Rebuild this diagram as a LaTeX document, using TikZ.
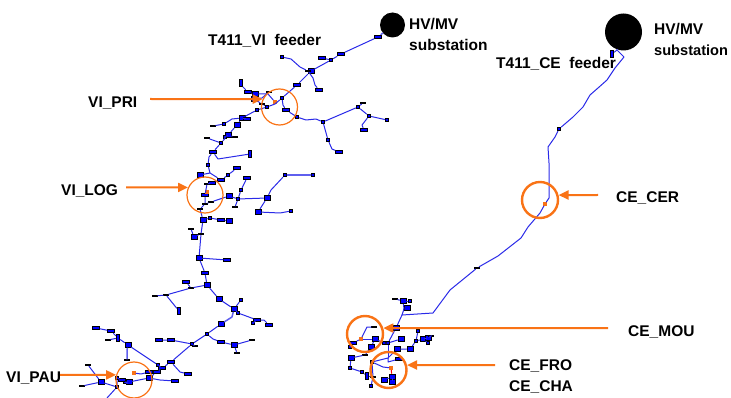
\documentclass[tikz,border=0pt]{standalone}
\usepackage{xcolor}
\usepackage{fontspec}
\setmainfont{Liberation Sans}
\usetikzlibrary{arrows.meta}
\definecolor{markorange}{HTML}{F97316}
\definecolor{feederblue}{HTML}{2A2AE8}
\begin{document}
\begin{tikzpicture}[
        x=1pt, y=-1pt,
        bus/.style={rectangle, draw=black, fill=blue, line width=1pt, inner sep=0pt, minimum width=3.6pt, minimum height=3.6pt},
        busbig/.style={bus, minimum width=6pt, minimum height=5.6pt},
        buswide/.style={bus, minimum width=7pt, minimum height=3.8pt},
        bustiny/.style={bus, minimum width=4.6pt, minimum height=1.4pt},
        bustall/.style={bus, minimum width=3.6pt, minimum height=7pt},
        way/.style={inner sep=0pt, outer sep=0pt, minimum size=0pt},
        hot/.style={rectangle, fill=markorange, inner sep=0pt, minimum size=3.6pt},
        substation/.style={circle, fill=black, inner sep=0pt},
        feeder/.style={draw=feederblue, line width=1pt, line cap=round, line join=round},
        trunk/.style={feeder, line width=1.5pt, draw=feederblue!75},
        ring/.style={circle, draw=markorange, inner sep=0pt, line width=1.2pt, minimum size=36pt},
        ringbig/.style={ring, line width=2.4pt, minimum size=36pt},
        pointer/.style={draw=markorange, line width=2pt, -{Triangle[length=10pt,width=9pt]}},
        tag/.style={anchor=west, inner sep=0pt, font=\fontsize{15.5}{16}\selectfont\bfseries},
      ]
      \useasboundingbox (0,0) rectangle (731,398);
      % left feeder
      \node [substation, minimum size=25pt] (subvi) at (392.5,25) {};
      \foreach \nm/\px/\py/\st in {a1/378/37/buswide, a2/341/54/buswide, a3/331/60/bus, a3b/322/58/buswide, a4/311/71/busbig, a4b/308/71/bustiny, a5/297/85/buswide, a6/282/98/bus,
          b1/282/57/bus, bw1/291/59/way, bw2/300/67/way, c1/319/90/buswide, cw1/315/85/way, cw2/313/78/way,
          d0/283/105/way, d2/286/110/buswide, d3/297/117/bus, dw1/306/120/way, dw2/316/119/way, d4/323/122/bus, e1/358/107/bus, e2/369/116/bus, e3/387/120/bus, e4/363/103/bustiny, ew1/362/125/way, e5/364/130/buswide, e6/328/140/bus, ew2/332/149/way, e7/339/152/buswide,
          f0/275/104/way, f1/267/107/bus, f2/262/104/bustiny, f3/257/110/bus, f4/254/99/busbig, f5/255/94/busbig, f6/248/92/buswide, fw1/243/87/way, f7/241/83/bustall, f8/269/92/bustiny, fw2/262/98/way, fw3/268/94/way,
          g1/242/118/busbig, g2/247/119/buswide, gw1/232/119/way, g3/224/124/bus, g4/213/126/bustiny, g5/237/125/busbig, g6/228/135/busbig, g7/221/143/bus, g8/235/137/bustiny, g9/225/137/bus, g10/207/138/bustiny,
          h1/213/152/buswide, hw1/209/157/way, h2/208/165/bus, h3/210/173/way, h4/250/154/bustall, hw2/218/159/way, h5/200/175/busbig, h6/221/180/buswide, h7/228/175/bus, h8/237/168/buswide,
          i1/212/183/buswide, i2/207/184/bustiny, i3/205/195/buswide, i4/205/204/bustiny, i5/200/209/bustiny, i6/211/202/bustiny, i7/229/196/busbig, i8/238/199/bus, i9/267/198/busbig, i10/235/207/bustiny, i11/285/175/bus, i12/313/175/bus, iw1/271/190/way, i13/258/212/busbig, iw2/280/213/way, i14/291/211/bus, i15/241/190/bus, i16/247/178/buswide,
          j1/203/220/busbig, j2/210/218/bus, j3/221/220/buswide, j4/229/221/busbig, j5/201/234/bustiny, j6/199/258/busbig, j7/194/237/busbig, j8/191/229/bustiny, j9/227/260/buswide, j10/205/273/buswide, j11/207/285/busbig, j12/191/288/bustiny, j13/186/282/buswide, j14/166/295/bustiny, j15/155/296/bustiny, j16/179/311/bustall,
          k1/219/299/busbig, k2/234/309/busbig, k3/238/313/bus, k4/257/320/buswide, kw1/264/320/way, k5/269/325/buswide, k6/253/323/bus, k7/241/300/bus, kw2/232/317/way, k8/221/324/busbig, k9/207/334/bus, kw3/213/339/way, k10/192/344/bus, k11/221/342/buswide, k12/234/345/busbig, k13/252/340/bustiny, k14/237/353/bustiny, k15/171/340/buswide, k16/159/340/buswide, k17/195/346/bustiny,
          l1/171/362/buswide, l2/162/368/buswide, lw1/180/372/way, l3/188/374/buswide, l4/158/365/bus, l5/157/372/buswide, l6/149/378/busbig, l7/149/372/buswide, lw2/141/374/way, lw3/160/380/way, l8/175/381/buswide,
          m1/128/345/busbig, m2/118/338/bustall, m3/111/331/buswide, m4/96/328/buswide, m5/108/340/bustiny, mw1/127/350/way, m6/127/360/bustiny,
          n1/129/382/busbig, n2/125/382/bus, n3/122/380/buswide, n4/117/378/bus, n5/117/387/bus, n6/101/382/busbig, n7/88/365/bustiny, n8/82/386/bustiny, nw1/107/398/way} {
        \node [\st] (\nm) at (\px,\py) {};
      }
      \node [hot] (hotpri) at (275,102) {};
      \node [hot] (hotlog) at (207,192) {};
      \node [hot] (hotpau) at (134,373) {};
      \draw [trunk] (subvi) -- (a1);
      \draw [feeder] (a1) -- (a2) -- (a3) -- (a4) -- (a5) -- (a6) -- (d0) -- (d2) -- (d3) -- (dw1) -- (dw2) -- (d4) -- (e1) -- (e2) -- (e3);
      \draw [feeder] (a3) -- (a3b);
      \draw [feeder] (b1) -- (bw1) -- (bw2) -- (a4b) -- (cw2) -- (cw1) -- (c1);
      \draw [feeder] (e1) -- (e4);
      \draw [feeder] (e2) -- (ew1) -- (e5);
      \draw [feeder] (d4) -- (e6) -- (ew2) -- (e7);
      \draw [feeder] (a6) -- (f0) -- (f1) -- (f3) -- (g1);
      \draw [feeder] (f1) -- (f2) -- (f4) -- (fw2) -- (f8);
      \draw [feeder] (f7) -- (fw1) -- (f6) -- (f5) -- (fw3) -- (hotpri);
      \draw [feeder] (f4) -- (f5);
      \draw [feeder] (g1) -- (g2);
      \draw [feeder] (g1) -- (gw1) -- (g3) -- (g4);
      \draw [feeder] (g1) -- (g5) -- (g6) -- (g7) -- (h1) -- (hw1) -- (h2) -- (h3) -- (h5);
      \draw [feeder] (g6) -- (g8);
      \draw [feeder] (g6) -- (g9);
      \draw [feeder] (g7) -- (g10);
      \draw [feeder] (h1) -- (hw2) -- (h4);
      \draw [feeder] (h3) -- (h6) -- (h7) -- (h8);
      \draw [feeder] (h6) -- (i1) -- (i2) -- (i3) -- (i4) -- (i5) -- (j1);
      \draw [feeder] (i4) -- (i6) -- (i7) -- (i8) -- (i9) -- (iw1) -- (i11);
      \draw [trunk] (i11) -- (i12);
      \draw [feeder] (i8) -- (i15) -- (i16);
      \draw [feeder] (i8) -- (i10);
      \draw [feeder] (i9) -- (i13) -- (iw2) -- (i14);
      \draw [feeder] (j1) -- (j2) -- (j3) -- (j4);
      \draw [feeder] (j1) -- (j5) -- (j6) -- (j9);
      \draw [feeder] (j5) -- (j7) -- (j8);
      \draw [feeder] (j6) -- (j10) -- (j11) -- (j12) -- (j13);
      \draw [feeder] (j12) -- (j14) -- (j15);
      \draw [feeder] (j14) -- (j16);
      \draw [feeder] (j11) -- (k1) -- (k2) -- (k3) -- (k4) -- (kw1) -- (k5);
      \draw [feeder] (k4) -- (k6);
      \draw [feeder] (k2) -- (k7);
      \draw [trunk] (k2) -- (kw2) -- (k8);
      \draw [feeder] (k8) -- (k9) -- (k10) -- (l1) -- (l2);
      \draw [feeder] (k9) -- (kw3) -- (k11) -- (k12) -- (k13);
      \draw [feeder] (k12) -- (k14);
      \draw [feeder] (k10) -- (k15) -- (k16);
      \draw [feeder] (k10) -- (k17);
      \draw [feeder] (l1) -- (lw1) -- (l3);
      \draw [feeder] (l2) -- (l4) -- (m1) -- (m2) -- (m3) -- (m4);
      \draw [feeder] (m2) -- (m5);
      \draw [trunk] (m1) -- (mw1) -- (m6);
      \draw [feeder] (l2) -- (l5) -- (l6) -- (n1) -- (n2) -- (n3) -- (n4) -- (n5) -- (nw1);
      \draw [feeder] (l5) -- (l7) -- (lw2) -- (hotpau);
      \draw [feeder] (l6) -- (lw3) -- (l8);
      \draw [feeder] (n5) -- (n6) -- (n7);
      \draw [feeder] (n6) -- (n8);
      % right feeder
      \node [substation, minimum size=37pt] (subce) at (623.5,32) {};
      \foreach \nm/\px/\py/\st in {p0/612/54/bustall, w0/617/50/way, w1/624/57/way, w2/615/68/way, w3/607/80/way, w4/598/88/way, w5/590/95/way, w6/583/107/way, w7/573/117/way, p1/559/129/bus, w8/555/137/way, w9/548/147/way, w10/549/163/way, w11/549/198/way, w12/540/213/way, w13/528/227/way, w14/521/238/way, w15/498/256/way, p2/477/268/bustiny, w16/450/290/way, w17/433/313/way, w18/402/315/way,
          q1/396/328/busbig, q2/407/308/busbig, q3/403/301/busbig, q4/395/299/bustiny, q5/410/301/bus, qw1/404/309/way,
          r1/388/343/bus, r2/384/343/bus, r3/401/339/busbig, r4/375/339/busbig, r5/371/347/busbig, r6/365/355/bustiny, r7/351/358/busbig, r8/350/368/bus, r9/362/372/bus, r10/367/376/bustall, r11/373/377/bustiny, r12/371/386/bus,
          s1/374/327/bustiny, s2/367/327/way, s3/353/343/buswide, s4/350/347/bus,
          t1/372/362/bus, tw1/383/367/way, t2/392/377/busbig, t3/392/382/busbig, t4/384/380/busbig, t5/388/358/way, t6/388/362/way, t7/399/359/buswide,
          u1/397/349/busbig, u2/410/349/busbig, u3/416/341/bus, u4/423/339/busbig, u5/428/338/busbig, u6/428/343/bus, u7/418/331/bus, u8/431/336/bustiny} {
        \node [\st] (\nm) at (\px,\py) {};
      }
      \node [hot] (hotcer) at (545,204) {};
      \node [hot] (hotmou) at (361,339) {};
      \node [hot] (hotfro) at (391,368) {};
      \draw [feeder] (p0) -- (w0) -- (w1) -- (w2) -- (w3) -- (w4) -- (w5) -- (w6) -- (w7) -- (p1) -- (w8) -- (w9) -- (w10) -- (w11) -- (hotcer) -- (w12) -- (w13) -- (w14) -- (w15) -- (p2) -- (w16) -- (w17) -- (w18) -- (q1) -- (r1);
      \draw [trunk] (subce) -- (w0);
      \draw [feeder] (w18) -- (qw1) -- (q2);
      \draw [feeder] (qw1) -- (q3) -- (q4);
      \draw [feeder] (q3) -- (q5);
      \draw [feeder] (r1) -- (r3);
      \draw [feeder] (r1) -- (r2) -- (r4) -- (r5) -- (r6) -- (r7) -- (r8) -- (r9) -- (r10) -- (r11) -- (r12);
      \draw [feeder] (s1) -- (s2) -- (hotmou) -- (s3) -- (s4);
      \draw [feeder] (r4) -- (hotmou);
      \draw [feeder] (r11) -- (t1) -- (tw1) -- (hotfro);
      \draw [draw=red, line width=1pt] (hotfro) -- (t2);
      \draw [feeder] (t2) -- (t3);
      \draw [feeder] (t2) -- (t4);
      \draw [feeder] (t1) -- (t5) -- (t6) -- (t7);
      \draw [feeder] (r1) -- (t5);
      \draw [feeder] (t5) -- (u1) -- (u2) -- (u3) -- (u4) -- (u5);
      \draw [feeder] (u4) -- (u6);
      \draw [feeder] (u5) -- (u8);
      \draw [feeder] (u3) -- (u7);
      % marked buses
      \node [ring] (ringpri) at (279.5,107) {};
      \node [ring] (ringlog) at (205,195) {};
      \node [ring] (ringpau) at (134,380) {};
      \node [ringbig] (ringcer) at (540,200) {};
      \node [ringbig] (ringmou) at (365,334) {};
      \node [ringbig] (ringfro) at (388.5,370) {};
      \coordinate (frompri) at (150,99);
      \coordinate (fromlog) at (126,187.5);
      \coordinate (frompau) at (58,375);
      \coordinate (fromcer) at (598,195);
      \coordinate (frommou) at (608,328);
      \coordinate (fromfro) at (495,365);
      \draw [pointer] (frompri) -- (ringpri.155);
      \draw [pointer] (fromlog) -- (ringlog.156);
      \draw [pointer] (frompau) -- (ringpau.164);
      \draw [pointer] (fromcer) -- (ringcer.15);
      \draw [pointer] (frommou) -- (ringmou.18);
      \draw [pointer] (fromfro) -- (ringfro.15);
      % labels
      \node [tag] (feedervi) at (208,41) {T411\_VI\ \ feeder};
      \node [tag] (hvvi) at (409,24) {HV/MV};
      \node [tag] (stvi) at (409,45) {substation};
      \node [tag] (feederce) at (496,64) {T411\_CE\ \ feeder};
      \node [tag] (hvce) at (654,29) {HV/MV};
      \node [tag, font=\fontsize{14.6}{16}\selectfont\bfseries] (stce) at (654,50) {substation};
      \node [tag] (tagpri) at (88,103) {VI\_PRI};
      \node [tag] (taglog) at (61,191) {VI\_LOG};
      \node [tag] (tagpau) at (6,378) {VI\_PAU};
      \node [tag] (tagcer) at (616,198) {CE\_CER};
      \node [tag] (tagmou) at (628,332) {CE\_MOU};
      \node [tag] (tagfro) at (509,366) {CE\_FRO};
      \node [tag] (tagcha) at (509,387) {CE\_CHA};
    \end{tikzpicture}
\end{document}
